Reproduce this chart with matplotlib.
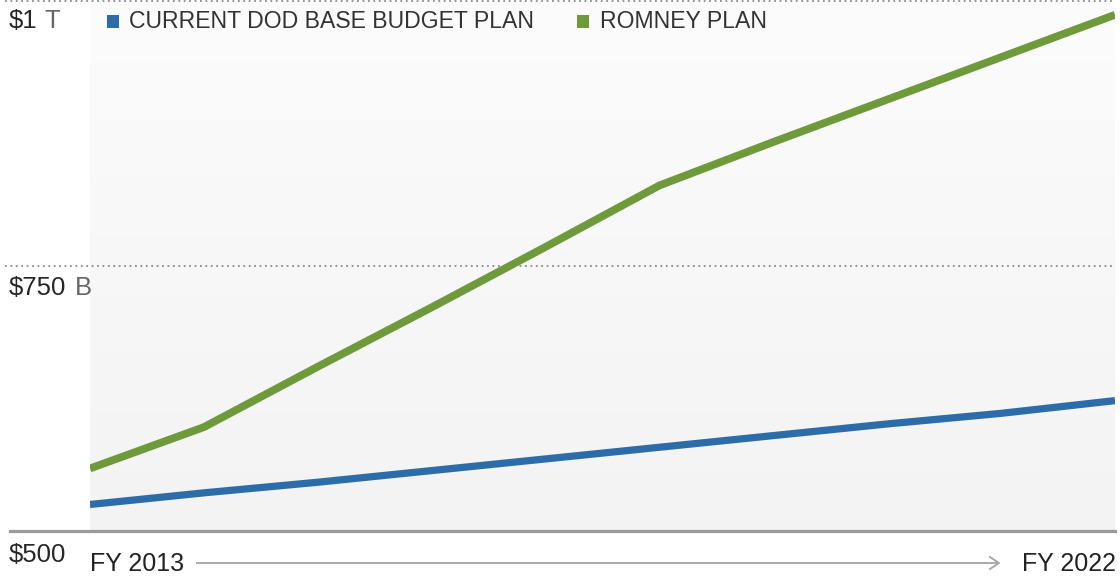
import matplotlib.pyplot as plt
import numpy as np
from matplotlib.colors import LinearSegmentedColormap
from matplotlib.patches import Rectangle

plt.rcParams['font.family'] = ['Liberation Sans', 'DejaVu Sans']

years = np.arange(2013, 2023)
# billions of dollars per fiscal year
dod_base = [525, 536, 546, 557, 568, 579, 590, 601, 611, 623]
romney = [559, 598, 655, 711, 768, 826, 867, 907, 947, 987]

series_names = ['CURRENT DOD BASE BUDGET PLAN', 'ROMNEY PLAN']
series_colors = ['#2c6ca8', '#6f9a3c']

W, H = 1120, 580


def fx(x):
    return x / W


def fy(y):
    return 1 - y / H


fig = plt.figure(figsize=(W / 100, H / 100), dpi=100)
fig.patch.set_facecolor('white')

ax = fig.add_axes([fx(90), fy(531), (1115 - 90) / W, 530 / H])
ax.set_xlim(years[0], years[-1])
ax.set_ylim(500, 1000)
ax.axis('off')

# soft grey backdrop behind the lines
cmap = LinearSegmentedColormap.from_list('bg', ['#f3f3f3', '#fcfcfc'])
ax.imshow(np.linspace(0, 1, 256).reshape(-1, 1), extent=[years[0], years[-1], 500, 1000],
          origin='lower', aspect='auto', cmap=cmap, zorder=0)

# guide lines reach into the label column on the left
x0 = (5 - 90) / (1115 - 90)
for level in (750, 1000):
    ax.plot([x0, 1], [level, level], transform=ax.get_yaxis_transform(), clip_on=False,
            color='#8a8a8a', lw=1.3, ls=(0, (1, 2)), zorder=1)
ax.plot([(10 - 90) / (1115 - 90), 1], [500, 500], transform=ax.get_yaxis_transform(),
        clip_on=False, color='#9a9a9a', lw=2.3, zorder=1)

ax.plot(years, dod_base, color=series_colors[0], lw=5.2, solid_capstyle='butt', zorder=3)
ax.plot(years, romney, color=series_colors[1], lw=5.6, solid_capstyle='butt', zorder=3)

# value labels on the left
lab = dict(fontsize=18.5, va='center', ha='left')
fig.text(fx(9), fy(21), '$1', color='#262626', **lab)
fig.text(fx(44), fy(21), 'T', color='#666666', **lab)
fig.text(fx(9), fy(288), '$750', color='#262626', **lab)
fig.text(fx(75), fy(288), 'B', color='#666666', **lab)
fig.text(fx(9), fy(555), '$500', color='#262626', **lab)

# time axis labels and arrow
fig.text(fx(90), fy(564), f'FY {years[0]}', color='#222222', fontsize=18, va='center', ha='left')
fig.text(fx(1116), fy(564), f'FY {years[-1]}', color='#222222', fontsize=18, va='center', ha='right')
fig.add_artist(plt.Line2D([fx(197), fx(998)], [fy(563), fy(563)], color='#a8a8a8', lw=1.4))
fig.add_artist(plt.Line2D([fx(990), fx(999), fx(990)], [fy(557), fy(563), fy(569)],
                          color='#a8a8a8', lw=1.4))

# legend
for sx, tx, name, col in [(107, 129, series_names[0], series_colors[0]),
                          (577, 600, series_names[1], series_colors[1])]:
    fig.add_artist(Rectangle((fx(sx), fy(28)), 12 / W, 13 / H, transform=fig.transFigure,
                             facecolor=col, edgecolor='none'))
    fig.text(fx(tx), fy(22), name, color='#333333', fontsize=16.6, va='center', ha='left')

fig.savefig('out.png', dpi=100)
